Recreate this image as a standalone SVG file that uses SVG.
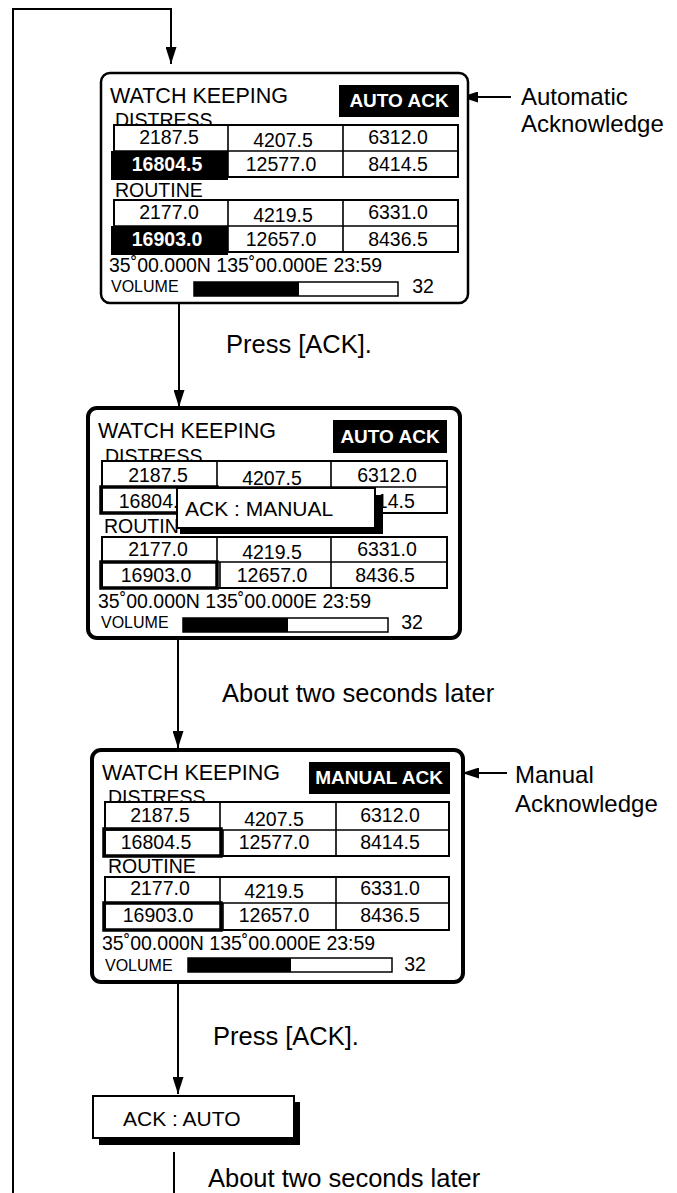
<svg xmlns="http://www.w3.org/2000/svg" width="677" height="1193" viewBox="0 0 677 1193">
<defs>
<style>
text{font-family:"Liberation Sans",Arial,Helvetica,sans-serif;fill:#000}
.lbl{font-size:25.5px}
.cap{font-size:24px}
.wk{font-size:21.5px}
.sec{font-size:19.5px}
.num{font-size:19.5px;text-anchor:middle}
.bw{font-weight:bold;fill:#fff}
.ackt{font-size:19px;font-weight:bold;fill:#fff;text-anchor:middle}
.vol{font-size:16px}
.pos{font-size:19.5px}
.frame{fill:#fff;stroke:#000}
.tbl{fill:#fff;stroke:#000;stroke-width:2}
.div{stroke:#000;stroke-width:1.6;fill:none}
.thick{fill:none;stroke:#000;stroke-width:3.5}
.conn{stroke:#000;stroke-width:2;fill:none}
</style>
<marker id="ah" viewBox="0 0 17 11" refX="17" refY="5.5" markerWidth="17" markerHeight="11" markerUnits="userSpaceOnUse" orient="auto">
<path d="M0,0 L17,5.5 L0,11 Z" fill="#000"/>
</marker>
</defs>
<rect width="677" height="1193" fill="#fff"/>

<g id="connectors">
<path class="conn" d="M13,1193 V9 H171 V64" marker-end="url(#ah)"/>
<path class="conn" d="M179,303 V407" marker-end="url(#ah)"/>
<path class="conn" d="M178,638 V748" marker-end="url(#ah)"/>
<path class="conn" d="M178,982 V1094" marker-end="url(#ah)"/>
<path class="conn" d="M174,1152 V1193"/>
<path class="conn" d="M511,97 H461" marker-end="url(#ah)"/>
<path class="conn" d="M507,773 H462" marker-end="url(#ah)"/>
</g>

<g id="labels">
<text class="lbl" x="226" y="353">Press [ACK].</text>
<text class="lbl" x="222" y="702">About two seconds later</text>
<text class="lbl" x="213" y="1045">Press [ACK].</text>
<text class="lbl" x="208" y="1187">About two seconds later</text>
<text class="cap" x="521" y="105">Automatic</text>
<text class="cap" x="521" y="132">Acknowledge</text>
<text class="cap" x="515" y="783">Manual</text>
<text class="cap" x="515" y="812">Acknowledge</text>
</g>

<g id="screen-auto-ack" transform="translate(101,73)">
<rect class="frame" x="0" y="0" width="367" height="230" rx="9" stroke-width="2.5"/>
<text class="wk" x="9" y="30">WATCH KEEPING</text>
<rect x="238" y="12" width="120" height="32" fill="#000"/>
<text class="ackt" x="298" y="34">AUTO ACK</text>
<text class="sec" x="14" y="54">DISTRESS</text>
<rect class="tbl" x="13" y="52" width="344" height="52"/>
<path class="div" d="M13,78 H357 M127,52 V104 M242,52 V104"/>
<rect x="10" y="78" width="117" height="29" fill="#000"/>
<text class="num" x="68" y="71">2187.5</text>
<text class="num" x="182" y="74">4207.5</text>
<text class="num" x="297" y="71">6312.0</text>
<text class="num bw" x="66" y="98">16804.5</text>
<text class="num" x="180" y="98">12577.0</text>
<text class="num" x="297" y="98">8414.5</text>
<text class="sec" x="14" y="124">ROUTINE</text>
<rect class="tbl" x="13" y="127" width="344" height="52"/>
<path class="div" d="M13,153 H357 M127,127 V179 M242,127 V179"/>
<rect x="10" y="153" width="117" height="29" fill="#000"/>
<text class="num" x="68" y="146">2177.0</text>
<text class="num" x="182" y="149">4219.5</text>
<text class="num" x="297" y="146">6331.0</text>
<text class="num bw" x="66" y="173">16903.0</text>
<text class="num" x="180" y="173">12657.0</text>
<text class="num" x="297" y="173">8436.5</text>
<text class="pos" x="8" y="199">35˚00.000N 135˚00.000E 23:59</text>
<text class="vol" x="10" y="219">VOLUME</text>
<rect x="93" y="209" width="204" height="14" fill="#fff" stroke="#000" stroke-width="1.5"/>
<rect x="93" y="209" width="105" height="14" fill="#000"/>
<text class="num" x="322" y="220">32</text>
</g>

<g id="screen-ack-manual-popup" transform="translate(88,408)">
<rect class="frame" x="0" y="0" width="372" height="230" rx="9" stroke-width="4"/>
<text class="wk" x="10" y="30">WATCH KEEPING</text>
<rect x="245" y="12" width="114" height="33" fill="#000"/>
<text class="ackt" x="302" y="35">AUTO ACK</text>
<text class="sec" x="17" y="55">DISTRESS</text>
<rect class="tbl" x="14" y="53" width="345" height="52"/>
<path class="div" d="M14,79 H359 M129,53 V79 M132,79 V105 M243,53 V105"/>
<rect class="thick" x="13" y="79" width="116" height="26"/>
<text class="num" x="70" y="74">2187.5</text>
<text class="num" x="184" y="77">4207.5</text>
<text class="num" x="299" y="74">6312.0</text>
<text class="num" x="66" y="100">16804.5</text>
<text class="num" x="184" y="100">12577.0</text>
<text class="num" x="297" y="100">8414.5</text>
<text class="sec" x="16" y="125">ROUTINE</text>
<rect class="tbl" x="14" y="129" width="345" height="51"/>
<path class="div" d="M14,154 H359 M129,129 V154 M132,154 V180 M243,129 V180"/>
<rect class="thick" x="13" y="154" width="116" height="26"/>
<text class="num" x="70" y="148">2177.0</text>
<text class="num" x="184" y="151">4219.5</text>
<text class="num" x="299" y="148">6331.0</text>
<text class="num" x="68" y="174">16903.0</text>
<text class="num" x="184" y="174">12657.0</text>
<text class="num" x="297" y="174">8436.5</text>
<text class="pos" x="10" y="200">35˚00.000N 135˚00.000E 23:59</text>
<text class="vol" x="13" y="220">VOLUME</text>
<rect x="95" y="210" width="205" height="14" fill="#fff" stroke="#000" stroke-width="1.5"/>
<rect x="95" y="210" width="105" height="14" fill="#000"/>
<text class="num" x="324" y="221">32</text>
<rect x="92" y="87" width="203" height="39" fill="#000"/>
<rect x="89" y="80" width="198" height="40" fill="#fff" stroke="#000" stroke-width="2"/>
<text x="97" y="108" font-size="21">ACK : MANUAL</text>
</g>

<g id="screen-manual-ack" transform="translate(92,750)">
<rect class="frame" x="0" y="0" width="371" height="232" rx="9" stroke-width="4"/>
<text class="wk" x="10" y="30">WATCH KEEPING</text>
<rect x="217" y="12" width="141" height="32" fill="#000"/>
<text class="ackt" x="287" y="34">MANUAL ACK</text>
<text class="sec" x="16" y="54">DISTRESS</text>
<rect class="tbl" x="13" y="52" width="344" height="54"/>
<path class="div" d="M13,80 H357 M128,52 V80 M131,80 V106 M244,52 V106"/>
<rect class="thick" x="12" y="79" width="117" height="27"/>
<text class="num" x="68" y="72">2187.5</text>
<text class="num" x="182" y="76">4207.5</text>
<text class="num" x="298" y="72">6312.0</text>
<text class="num" x="64" y="99">16804.5</text>
<text class="num" x="182" y="99">12577.0</text>
<text class="num" x="298" y="99">8414.5</text>
<text class="sec" x="16" y="123">ROUTINE</text>
<rect class="tbl" x="13" y="127" width="344" height="53"/>
<path class="div" d="M13,153 H357 M128,127 V153 M131,153 V180 M244,127 V180"/>
<rect class="thick" x="12" y="153" width="117" height="27"/>
<text class="num" x="68" y="145">2177.0</text>
<text class="num" x="182" y="148">4219.5</text>
<text class="num" x="298" y="145">6331.0</text>
<text class="num" x="66" y="172">16903.0</text>
<text class="num" x="182" y="172">12657.0</text>
<text class="num" x="298" y="172">8436.5</text>
<text class="pos" x="10" y="200">35˚00.000N 135˚00.000E 23:59</text>
<text class="vol" x="13" y="221">VOLUME</text>
<rect x="96" y="208" width="204" height="14" fill="#fff" stroke="#000" stroke-width="1.5"/>
<rect x="96" y="208" width="103" height="14" fill="#000"/>
<text class="num" x="323" y="221">32</text>
</g>

<g id="node-ack-auto">
<rect x="99" y="1102" width="201" height="43" fill="#000"/>
<rect x="93" y="1096" width="201" height="42" fill="#fff" stroke="#000" stroke-width="2"/>
<text x="123" y="1126" font-size="21">ACK : AUTO</text>
</g>
</svg>
